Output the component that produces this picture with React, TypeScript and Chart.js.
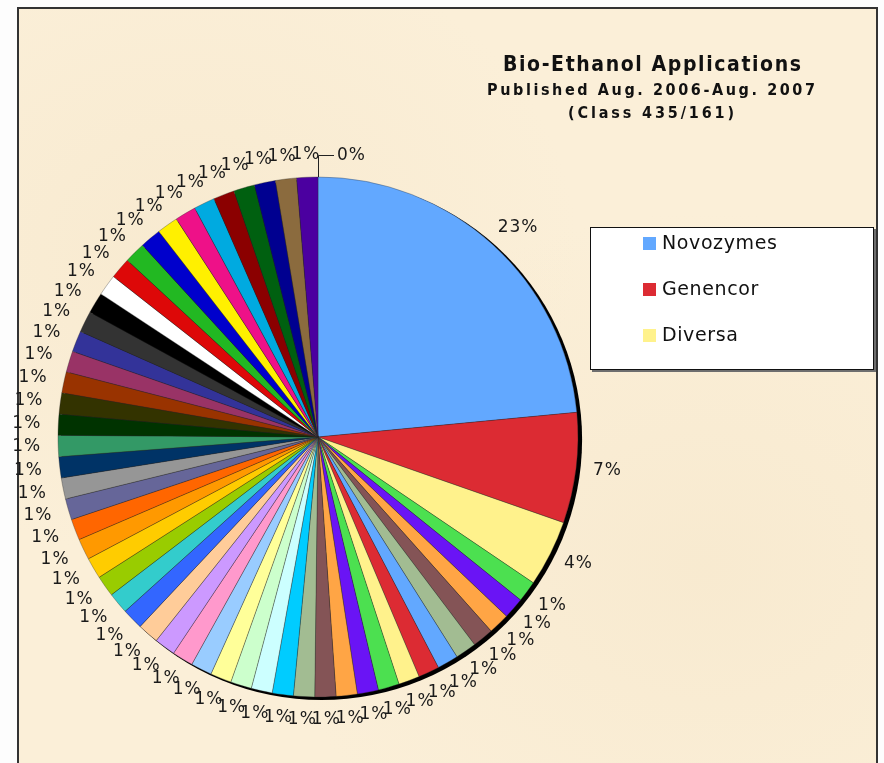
import React, { useEffect, useRef } from "react";
import { Chart, registerables } from "chart.js";

Chart.register(...registerables);

const titleLines = ["Bio-Ethanol Applications", "Published Aug. 2006-Aug. 2007", "(Class 435/161)"];
const legendNames = ["Novozymes", "Genencor", "Diversa"];

const companies = [
  "Novozymes", "Genencor", "Diversa",
  "Assignee 4", "Assignee 5", "Assignee 6", "Assignee 7", "Assignee 8", "Assignee 9", "Assignee 10",
  "Assignee 11", "Assignee 12", "Assignee 13", "Assignee 14", "Assignee 15", "Assignee 16", "Assignee 17",
  "Assignee 18", "Assignee 19", "Assignee 20", "Assignee 21", "Assignee 22", "Assignee 23", "Assignee 24",
  "Assignee 25", "Assignee 26", "Assignee 27", "Assignee 28", "Assignee 29", "Assignee 30", "Assignee 31",
  "Assignee 32", "Assignee 33", "Assignee 34", "Assignee 35", "Assignee 36", "Assignee 37", "Assignee 38",
  "Assignee 39", "Assignee 40", "Assignee 41", "Assignee 42", "Assignee 43", "Assignee 44", "Assignee 45",
  "Assignee 46", "Assignee 47", "Assignee 48", "Assignee 49", "Assignee 50", "Assignee 51", "Assignee 52",
  "Assignee 53", "Assignee 54",
];

const shares = [
  23.3, 6.8, 4.1,
  1.3, 1.3, 1.3, 1.3, 1.3, 1.3, 1.3, 1.3, 1.3, 1.3,
  1.3, 1.3, 1.3, 1.3, 1.3, 1.3, 1.3, 1.3, 1.3, 1.3,
  1.3, 1.3, 1.3, 1.3, 1.3, 1.3, 1.3, 1.3, 1.3, 1.3,
  1.3, 1.3, 1.3, 1.3, 1.3, 1.3, 1.3, 1.3, 1.3, 1.3,
  1.3, 1.3, 1.3, 1.3, 1.3, 1.3, 1.3, 1.3, 1.3, 1.3,
  0,
];

const sliceColors = [
  "#62A8FF", "#DC2B33", "#FFF28C",
  "#4CE050", "#6A14F5", "#FFA545", "#845456", "#A2BC92",
  "#62A8FF", "#DC2B33", "#FFF28C", "#4CE050", "#6A14F5", "#FFA545", "#845456", "#A2BC92",
  "#00CCFF", "#CCFFFF", "#CCFFCC", "#FFFF99", "#99CCFF", "#FF99CC", "#CC99FF", "#FFCC99",
  "#3366FF", "#33CCCC", "#99CC00", "#FFCC00", "#FF9900", "#FF6600", "#666699", "#969696",
  "#003366", "#339966", "#003300", "#333300", "#993300", "#993366", "#333399", "#333333",
  "#000000", "#FFFFFF", "#DD0808", "#22B822", "#0000CC", "#FFF000", "#EE1188", "#00AAE0",
  "#8B0000", "#006010", "#000090", "#8B6B3E", "#4B00A0",
  "#62A8FF",
];

function fitText(ctx: CanvasRenderingContext2D, text: string, cx: number, y: number, width: number) {
  (ctx as any).letterSpacing = "0px";
  const w = ctx.measureText(text).width;
  const ls = (width - w) / Math.max(1, text.length - 1);
  (ctx as any).letterSpacing = ls + "px";
  ctx.textAlign = "left";
  ctx.fillText(text, cx - width / 2, y);
  (ctx as any).letterSpacing = "0px";
}

const decorPlugin = {
  id: "decor",
  beforeDatasetsDraw(chart: any) {
    const ctx: CanvasRenderingContext2D = chart.ctx;
    const el = chart.getDatasetMeta(0).data[0];
    if (!el) return;
    const { x, y, outerRadius } = el;
    ctx.save();
    ctx.fillStyle = "#000";
    ctx.beginPath();
    ctx.arc(x + 3.5, y + 2.5, outerRadius + 0.6, 0, Math.PI * 2);
    ctx.fill();
    ctx.restore();
  },
  afterDatasetsDraw(chart: any) {
    const ctx: CanvasRenderingContext2D = chart.ctx;
    const meta = chart.getDatasetMeta(0);
    const total = shares.reduce((a, b) => a + b, 0);
    ctx.save();
    ctx.font = '17px "DejaVu Sans"';
    ctx.fillStyle = "#1a1a1a";
    ctx.textBaseline = "middle";
    (ctx as any).letterSpacing = "1px";
    const pad = 17;
    meta.data.forEach((el: any, i: number) => {
      const v = shares[i];
      const txt = Math.round((v / total) * 100) + "%";
      const a = (el.startAngle + el.endAngle) / 2;
      const r = el.outerRadius;
      if (v === 0) {
        const px = el.x + Math.cos(a) * r;
        const py = el.y + Math.sin(a) * r;
        ctx.strokeStyle = "#222";
        ctx.lineWidth = 1;
        ctx.beginPath();
        ctx.moveTo(px + 0.5, py);
        ctx.lineTo(px + 0.5, py - 21.5);
        ctx.lineTo(px + 16, py - 21.5);
        ctx.stroke();
        ctx.textAlign = "left";
        ctx.fillText(txt, px + 19, py - 21);
        return;
      }
      const w = ctx.measureText(txt).width;
      const h = 12;
      const cx = el.x + Math.cos(a) * (r + pad) + Math.cos(a) * w / 2;
      const cy = el.y + Math.sin(a) * (r + pad) + Math.sin(a) * h / 2;
      ctx.textAlign = "center";
      ctx.fillText(txt, cx, cy);
    });
    ctx.restore();
  },
  afterDraw(chart: any) {
    const ctx: CanvasRenderingContext2D = chart.ctx;
    ctx.save();
    // title
    ctx.fillStyle = "#111";
    ctx.textBaseline = "alphabetic";
    ctx.font = 'bold 21px "DejaVu Sans Condensed", "DejaVu Sans"';
    fitText(ctx, titleLines[0], 652, 71, 298);
    ctx.font = 'bold 16px "DejaVu Sans Condensed", "DejaVu Sans"';
    fitText(ctx, titleLines[1], 651, 95, 328);
    fitText(ctx, titleLines[2], 651, 118, 166);
    // legend box
    const bx = 590, by = 227, bw = 284, bh = 143;
    ctx.fillStyle = "#6e6e6e";
    ctx.fillRect(bx + 2, by + 2, bw, bh);
    ctx.fillStyle = "#ffffff";
    ctx.fillRect(bx, by, bw, bh);
    ctx.strokeStyle = "#111";
    ctx.lineWidth = 1;
    ctx.strokeRect(bx + 0.5, by + 0.5, bw - 1, bh - 1);
    ctx.font = '19px "DejaVu Sans"';
    ctx.textBaseline = "middle";
    ctx.textAlign = "left";
    const rows = [243, 289, 335];
    legendNames.forEach((name, i) => {
      ctx.fillStyle = sliceColors[i];
      ctx.fillRect(643, rows[i] - 6, 13, 13);
      ctx.fillStyle = "#111";
      (ctx as any).letterSpacing = "0.6px";
      ctx.fillText(name, 662, rows[i] + 1);
    });
    ctx.restore();
  },
};

export default function App() {
  const ref = useRef<HTMLCanvasElement | null>(null);
  useEffect(() => {
    if (!ref.current) return;
    const chart = new Chart(ref.current, {
      type: "pie",
      data: {
        labels: companies,
        datasets: [
          {
            data: shares,
            backgroundColor: sliceColors,
            borderColor: "rgba(40,40,40,0.55)",
            borderWidth: 0.6,
            radius: 260,
          } as any,
        ],
      },
      options: {
        responsive: false,
        animation: false,
        devicePixelRatio: 1,
        layout: { padding: { left: 58, top: 177, right: 306, bottom: 66 } },
        plugins: {
          legend: { display: false },
          title: { display: false },
          tooltip: { enabled: false },
        },
      } as any,
      plugins: [decorPlugin],
    });
    return () => chart.destroy();
  }, []);

  return (
    <div style={{ position: "absolute", left: 0, top: 0, width: 884, height: 763, overflow: "hidden", background: "#fdfdfd" }}>
      <div
        style={{
          position: "absolute",
          left: 17,
          top: 7,
          width: 861,
          height: 800,
          boxSizing: "border-box",
          border: "2px solid #333",
          background:
            "radial-gradient(ellipse at 20% 30%, rgba(244,228,198,0.45), rgba(0,0,0,0) 40%), radial-gradient(ellipse at 80% 70%, rgba(244,228,198,0.45), rgba(0,0,0,0) 45%), #FBEFD8",
        }}
      />
      <canvas ref={ref} width={884} height={763} style={{ position: "absolute", left: 0, top: 0, width: 884, height: 763 }} />
    </div>
  );
}
